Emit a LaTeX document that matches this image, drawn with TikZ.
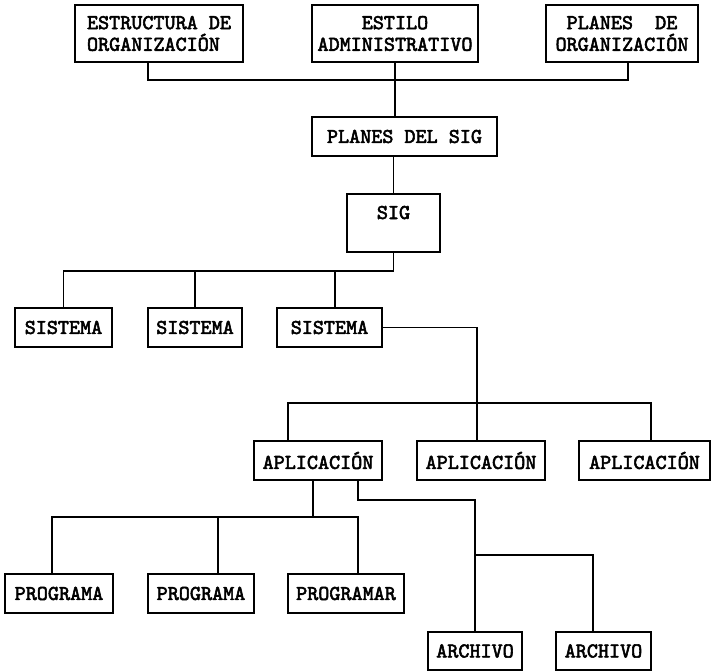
\documentclass[tikz,border=0pt]{standalone}
\usepackage{fontspec}
\usetikzlibrary{calc}
\newfontfamily\cajafont{lmmono10-regular.otf}[FakeBold=2.6]

\begin{document}
\begin{tikzpicture}[x=0.025cm,y=-0.025cm,line width=1.2pt,
                    caja/.style={draw,rectangle,inner sep=2pt,minimum height=0.975cm,
                                 font=\cajafont\fontsize{15}{15.4}\selectfont}]
  \useasboundingbox (0,0) rectangle (712,671);

  \node[caja,minimum width=4.2cm,minimum height=1.425cm,align=left]   (EO) at (159,33.5) {ESTRUCTURA DE\\ORGANIZACIÓN};
  \node[caja,minimum width=4.15cm,minimum height=1.425cm,align=center] (EA) at (395,33.5) {ESTILO\\ADMINISTRATIVO};
  \node[caja,minimum width=3.8cm,minimum height=1.425cm,align=center]  (PO) at (622,33.5) {PLANES~~DE\\ORGANIZACIÓN};
  \node[caja,minimum width=4.625cm]                     (PS) at (404.5,136.5) {PLANES DEL SIG};
  \node[caja,minimum width=2.325cm,minimum height=0pt,inner ysep=0pt,
        text height=0.625cm,text depth=0.825cm]         (SIG) at (393.5,223) {SIG};
  \node[caja,minimum width=2.425cm] (S1) at (63.5,327.5)  {SISTEMA};
  \node[caja,minimum width=2.35cm]  (S2) at (195,327.5)   {SISTEMA};
  \node[caja,minimum width=2.625cm] (S3) at (329.5,327.5) {SISTEMA};
  \node[caja,minimum width=3.2cm]   (A1) at (318,460.5)   {APLICACIÓN};
  \node[caja,minimum width=3.2cm]   (A2) at (481,460.5)   {APLICACIÓN};
  \node[caja,minimum width=3.275cm] (A3) at (644.5,460.5) {APLICACIÓN};
  \node[caja,minimum width=2.7cm]   (P1) at (59,593.5)    {PROGRAMA};
  \node[caja,minimum width=2.65cm]  (P2) at (201,593.5)   {PROGRAMA};
  \node[caja,minimum width=2.9cm]   (P3) at (346,593.5)   {PROGRAMAR};
  \node[caja,minimum width=2.35cm,minimum height=0.95cm]  (R1) at (475,651)   {ARCHIVO};
  \node[caja,minimum width=2.375cm,minimum height=0.95cm] (R2) at (603.5,651) {ARCHIVO};

  \coordinate (topbus) at (395,80);
  \coordinate (sisbus) at (393.5,271);
  \coordinate (apbus)  at (477,403);
  \coordinate (prbus)  at (313,517);
  \coordinate (arbus)  at (475,555);

  \draw ($(EO.south)+(-11,0)$) |- (topbus) -| ($(PO.south)+(6,0)$);
  \draw (EA.south) -- (EA.south |- PS.north);
  \draw (PS.south -| SIG.north) -- (SIG.north);
  \draw (SIG.south) -- (sisbus) -| (S1.north);
  \draw (S2.north) |- (sisbus);
  \draw ($(S3.north)+(5.5,0)$) |- (sisbus);
  \draw (S3.east) -| ($(A2.north)+(-4,0)$);
  \draw ($(A1.north)+(-30,0)$) |- (apbus) -| ($(A3.north)+(6.5,0)$);
  \draw ($(A1.south)+(-5,0)$) -- (prbus);
  \draw ($(P1.north)+(-7,0)$) |- (prbus) -| ($(P3.north)+(12,0)$);
  \draw ($(P2.north)+(17,0)$) |- (prbus);
  \draw ($(A1.south)+(40,0)$) -- ++(0,19) -| (R1.north);
  \draw (arbus) -| ($(R2.north)+(-10.5,0)$);
\end{tikzpicture}
\end{document}
